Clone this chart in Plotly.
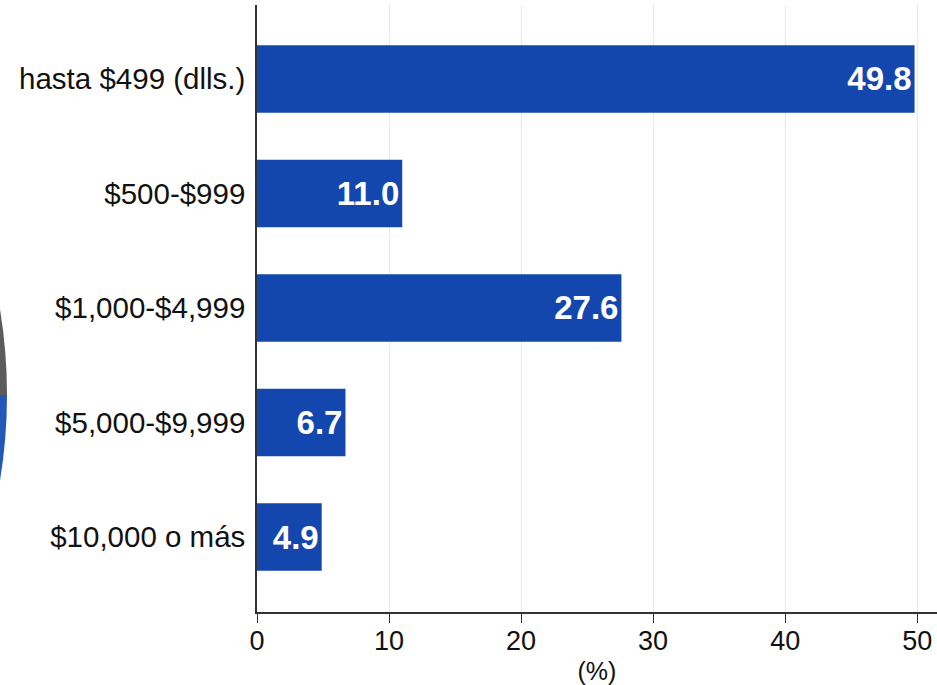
import plotly.graph_objects as go

categories = ["hasta $499 (dlls.)", "$500-$999", "$1,000-$4,999", "$5,000-$9,999", "$10,000 o más"]
values = [49.8, 11.0, 27.6, 6.7, 4.9]
labels = [f"{v:.1f}" for v in values]

bar_color = "#1447AD"
FONT = "Liberation Sans, Arial, Helvetica, sans-serif"

fig = go.Figure(go.Bar(
    x=values[::-1],
    y=categories[::-1],
    orientation="h",
    marker=dict(color=bar_color, line=dict(width=0)),
    text=["<b>" + t + "</b>" for t in labels[::-1]],
    textposition="inside",
    insidetextanchor="end",
    textfont=dict(color="white", size=33, family=FONT),
    cliponaxis=False,
))

# Cropped edge of a neighbouring pie chart at the far left of the picture
# (paper coordinates: plot area spans x 257..937 px, y 5..612 px)
def px_x(p):
    return (p - 257) / 680.0

def px_y(p):
    return (612 - p) / 607.0

grey_path = (f"M {px_x(-2)},{px_y(298)} Q {px_x(7)},{px_y(346)} {px_x(7)},{px_y(395)} "
             f"L {px_x(-2)},{px_y(395)} Z")
blue_path = (f"M {px_x(-2)},{px_y(395)} L {px_x(7)},{px_y(395)} "
             f"Q {px_x(7)},{px_y(444)} {px_x(-2)},{px_y(492)} Z")

fig.update_layout(
    width=937, height=685,
    margin=dict(l=257, r=0, t=5, b=73),
    paper_bgcolor="white", plot_bgcolor="white",
    bargap=0.41,
    showlegend=False,
    font=dict(family=FONT, color="#111111"),
    shapes=[
        dict(type="path", path=grey_path, xref="paper", yref="paper",
             fillcolor="#5c5c5c", line=dict(width=0), layer="above"),
        dict(type="path", path=blue_path, xref="paper", yref="paper",
             fillcolor="#2458b8", line=dict(width=0), layer="above"),
    ],
)
fig.update_xaxes(
    range=[0, 51.5],
    tickvals=[0, 10, 20, 30, 40, 50],
    ticks="outside", ticklen=9, tickcolor="#333333",
    tickfont=dict(size=27, color="#111111"),
    ticklabelstandoff=-5,
    showline=True, linecolor="#333333", linewidth=1.5,
    showgrid=True, gridcolor="#e8e8e8", gridwidth=1,
    zeroline=False,
    title=dict(text="(%)", font=dict(size=25, color="#111111"), standoff=10),
    fixedrange=True,
)
fig.update_yaxes(
    range=[-0.655, 4.646],
    showline=True, linecolor="#333333", linewidth=1.5,
    ticks="", ticklabelstandoff=4,
    tickfont=dict(size=29.5, color="#111111"),
    showgrid=False, zeroline=False,
    fixedrange=True,
)

fig.write_html("out.html", config={"displayModeBar": False},
               post_script="document.body.style.margin='0';document.body.style.overflow='hidden';")
